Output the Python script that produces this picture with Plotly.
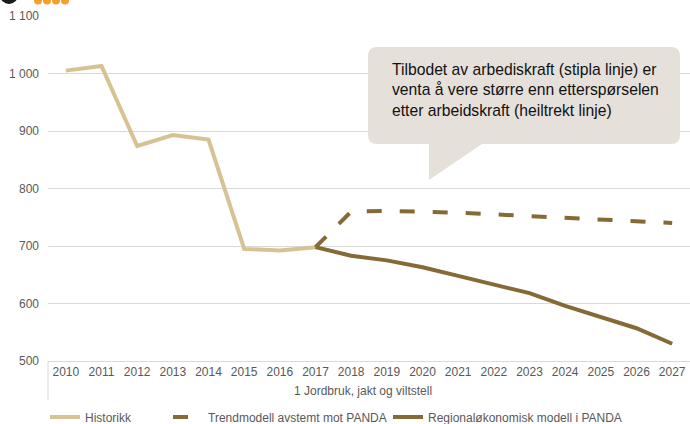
import plotly.graph_objects as go

years = [str(y) for y in range(2010, 2028)]
hist_years = years[:8]
hist_vals = [1005, 1013, 874, 893, 885, 695, 692, 698]
proj_years = years[7:]
trend_vals = [698, 760, 761, 760, 758, 755, 752, 748, 746, 743, 740]
regional_vals = [698, 683, 675, 663, 648, 633, 618, 596, 577, 557, 530]

names = ["Historikk", "Trendmodell avstemt mot PANDA", "Regionaløkonomisk modell i PANDA"]
tick_vals = [500, 600, 700, 800, 900, 1000, 1100]
axis_label = "1 Jordbruk, jakt og viltstell"
callout_text = ("Tilbodet av arbediskraft (stipla linje) er<br>"
                "venta å vere større enn etterspørselen<br>"
                "etter arbeidskraft (heiltrekt linje)")

TAN = "#D7C293"
DARK = "#866A35"
GREY = "#595959"
FONT = "Liberation Sans, Arial, sans-serif"

W, H = 690, 424
L, R, T, B = 48, 0, 16, 63
PW, PH = W - L - R, H - T - B


def px(x):
    return (x - L) / PW


def py(y):
    return (H - B - y) / PH


fig = go.Figure()
fig.add_trace(go.Scatter(x=hist_years, y=hist_vals, mode="lines", name=names[0],
                         line=dict(color=TAN, width=4), legend="legend"))
fig.add_trace(go.Scatter(x=proj_years, y=trend_vals, mode="lines", name=names[1],
                         line=dict(color=DARK, width=4, dash="15px,18px"), legend="legend2"))
fig.add_trace(go.Scatter(x=proj_years, y=regional_vals, mode="lines", name=names[2],
                         line=dict(color=DARK, width=4), legend="legend3"))

shapes = []
# callout box (rounded)
x0, x1, y0, y1 = 368, 680, 47, 144
r = 9
rx, ry = r / PW, r / PH
X0, X1, Y0, Y1 = px(x0), px(x1), py(y0), py(y1)
path = (f"M{X0+rx},{Y0} L{X1-rx},{Y0} Q{X1},{Y0} {X1},{Y0-ry} "
        f"L{X1},{Y1+ry} Q{X1},{Y1} {X1-rx},{Y1} "
        f"L{px(482)},{Y1} L{px(429)},{py(180)} L{px(429)},{Y1} "
        f"L{X0+rx},{Y1} Q{X0},{Y1} {X0},{Y1+ry} "
        f"L{X0},{Y0-ry} Q{X0},{Y0} {X0+rx},{Y0} Z")
shapes.append(dict(type="path", xref="paper", yref="paper", path=path,
                   fillcolor="#E5E0DA", line=dict(width=0), layer="above"))
# category divider below axis
shapes.append(dict(type="line", xref="paper", yref="paper", x0=0, x1=0,
                   y0=0, y1=py(400), line=dict(color="#D9D9D9", width=1)))
# logo fragment
shapes.append(dict(type="circle", xref="paper", yref="paper",
                   x0=px(0), x1=px(18), y0=py(4), y1=py(-14),
                   fillcolor="#1A1A1A", line=dict(width=0)))
for cx in [38, 47, 56, 65]:
    shapes.append(dict(type="circle", xref="paper", yref="paper",
                       x0=px(cx - 4), x1=px(cx + 4), y0=py(4.5), y1=py(-3.5),
                       fillcolor="#F5A02A", line=dict(width=0)))

annotations = [
    dict(text=callout_text, xref="paper", yref="paper", x=px(390), y=py(90),
         xanchor="left", yanchor="middle", align="left", showarrow=False,
         font=dict(family=FONT, size=15.7, color="#111111")),
    dict(text=axis_label, xref="paper", yref="paper", x=px(363), y=py(391),
         xanchor="center", yanchor="middle", showarrow=False,
         font=dict(family=FONT, size=12, color=GREY)),
]

leg_common = dict(orientation="h", yref="container", yanchor="middle",
                  y=1 - 417 / H, xanchor="left",
                  font=dict(family=FONT, size=12, color=GREY),
                  bgcolor="rgba(0,0,0,0)", borderwidth=0, itemwidth=30)

fig.update_layout(
    width=W, height=H,
    margin=dict(l=L, r=R, t=T, b=B),
    paper_bgcolor="white", plot_bgcolor="white",
    separators=", ",
    font=dict(family=FONT, size=12, color=GREY),
    showlegend=True,
    legend=dict(x=px(45), **leg_common),
    legend2=dict(x=px(168), **leg_common),
    legend3=dict(x=px(388), **leg_common),
    shapes=shapes,
    annotations=annotations,
    xaxis=dict(type="category", categoryorder="array", categoryarray=years,
               range=[-0.5, 17.5], showgrid=False, showline=True,
               linecolor="#D9D9D9", linewidth=1, ticks="", zeroline=False,
               automargin=False,
               tickfont=dict(family=FONT, size=12, color=GREY)),
    yaxis=dict(range=[500, 1100], tickvals=tick_vals, tickformat=",d",
               showgrid=True, gridcolor="#D9D9D9", gridwidth=1,
               showline=False, zeroline=False, ticks="",
               ticklabelstandoff=8, automargin=False,
               tickfont=dict(family=FONT, size=12, color=GREY)),
)

fig.write_html("out.html",
               config={"displayModeBar": False},
               post_script="document.body.style.margin='0';document.body.style.padding='0';"
                           "document.body.style.overflow='hidden';")
